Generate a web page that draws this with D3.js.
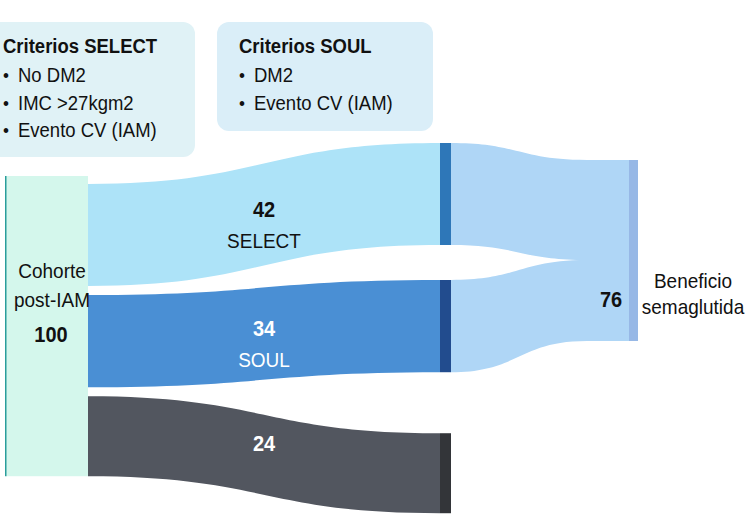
<!DOCTYPE html>
<html>
<head>
<meta charset="utf-8">
<script src="https://cdn.jsdelivr.net/npm/d3@7"></script>
<style>
  html, body { margin: 0; padding: 0; background: #ffffff; }
  svg { display: block; font-family: "Liberation Sans", Arial, Helvetica, sans-serif; }
</style>
</head>
<body>
<svg id="chart" width="745" height="527"></svg>
<script>
// ---------------- DATA ----------------
const cohortLabel = ["Cohorte", "post-IAM"];
const cohortTotal = 100;
const groups = ["SELECT", "SOUL", "Otros"];
const groupValues = [42, 34, 24];
const groupNames = ["SELECT", "SOUL", ""];
const benefitGroups = ["SELECT", "SOUL"];
const benefitValues = [42, 34];
const benefitLabel = ["Beneficio", "semaglutida"];
const selectTitle = "Criterios SELECT";
const selectCriteria = ["No DM2", "IMC >27kgm2", "Evento CV (IAM)"];
const soulTitle = "Criterios SOUL";
const soulCriteria = ["DM2", "Evento CV (IAM)"];

// ---------------- STYLE ----------------
const linkColors = ["#ade3f8", "#4a8fd4", "#52565f"];
const midNodeColors = ["#2e77b8", "#224c8e", "#333539"];
const labelColors = ["#111111", "#ffffff", "#ffffff"];
const benefitLinkColor = "#afd6f6";
const benefitNodeColor = "#97b8e6";
const SY = 1.1; // slight vertical stretch of the original lettering

const svg = d3.select("#chart");

function label(x, y, txt, opts) {
  opts = opts || {};
  return svg.append("text")
    .attr("transform", `translate(${x},${y}) scale(1,${SY})`)
    .attr("text-anchor", opts.anchor || "start")
    .attr("font-size", opts.size || 18.5)
    .attr("font-weight", opts.bold ? "bold" : "normal")
    .attr("fill", opts.fill || "#111")
    .text(txt);
}

// ---------------- LAYOUT ----------------
const colLeft = { x0: 6, x1: 88 };
const colMid = { x0: 440, x1: 451 };
const colEnd = { x0: 629, x1: 638, bendX: 587 };

// stage-1 thickness scale
const thick = d3.scaleLinear().domain(d3.extent(groupValues)).range([80, 102]);
// stage-2 thickness scale (benefit column)
const benefitTotal = d3.sum(benefitValues);
const thick2 = d3.scaleLinear().domain([0, benefitTotal]).range([0, 181]);

// left stacking
const leftStart = 184, leftGap = 9;
let yl = leftStart;
const leftBands = groupValues.map(v => { const b = { y0: yl, y1: yl + thick(v) }; yl = b.y1 + leftGap; return b; });
// mid stacking
const midStart = 143, midGaps = [35, 61];
let ym = midStart;
const midBands = groupValues.map((v, i) => { const b = { y0: ym, y1: ym + thick(v) }; ym = b.y1 + (midGaps[i] || 0); return b; });
// end stacking
const endHeight = thick2(benefitTotal);
const endTop = 160;
let ye = endTop;
const endBands = benefitValues.map(v => { const b = { y0: ye, y1: ye + thick2(v) }; ye = b.y1; return b; });

function band(xa, a, xb, b, xEnd) {
  const p = d3.path();
  const xm = (xa + xb) / 2;
  p.moveTo(xa, a.y0);
  p.bezierCurveTo(xm, a.y0, xm, b.y0, xb, b.y0);
  if (xEnd) { p.lineTo(xEnd, b.y0); p.lineTo(xEnd, b.y1); }
  p.lineTo(xb, b.y1);
  p.bezierCurveTo(xm, b.y1, xm, a.y1, xa, a.y1);
  p.closePath();
  return p.toString();
}

// ---------------- CRITERIA BOXES ----------------
const boxes = [
  { x: -20, y: 22, w: 215, h: 135, fill: "#e0f2f6", title: selectTitle, items: selectCriteria, tx: 3 },
  { x: 217, y: 22, w: 216, h: 109, fill: "#daeef8", title: soulTitle, items: soulCriteria, tx: 239 }
];
boxes.forEach(b => {
  svg.append("rect").attr("x", b.x).attr("y", b.y).attr("width", b.w).attr("height", b.h)
    .attr("rx", 12).attr("fill", b.fill);
  label(b.tx, b.y + 31, b.title, { bold: true, size: 18.5 });
  b.items.forEach((it, i) => {
    const yy = b.y + 60 + i * 27.5;
    label(b.tx, yy, "•", { size: 17 });
    label(b.tx + 15, yy, it, { size: 18.5 });
  });
});

// ---------------- STAGE 1 LINKS ----------------
groups.forEach((g, i) => {
  svg.append("path").attr("d", band(colLeft.x1, leftBands[i], colMid.x0, midBands[i]))
    .attr("fill", linkColors[i]);
});

// ---------------- STAGE 2 LINKS ----------------
benefitGroups.forEach((g, i) => {
  const gi = groups.indexOf(g);
  svg.append("path").attr("d", band(colMid.x1, midBands[gi], colEnd.bendX, endBands[i], colEnd.x0))
    .attr("fill", benefitLinkColor);
});

// ---------------- NODES ----------------
const leftNode = { y0: 176, y1: leftBands[leftBands.length - 1].y1 };
svg.append("rect").attr("x", colLeft.x0).attr("y", leftNode.y0)
  .attr("width", colLeft.x1 - colLeft.x0).attr("height", leftNode.y1 - leftNode.y0).attr("fill", "#d4f7ec");
svg.append("rect").attr("x", colLeft.x0 - 1).attr("y", leftNode.y0)
  .attr("width", 1.5).attr("height", leftNode.y1 - leftNode.y0).attr("fill", "#2a9d9b");

groups.forEach((g, i) => {
  svg.append("rect").attr("x", colMid.x0).attr("y", midBands[i].y0)
    .attr("width", colMid.x1 - colMid.x0).attr("height", midBands[i].y1 - midBands[i].y0)
    .attr("fill", midNodeColors[i]);
});

svg.append("rect").attr("x", colEnd.x0).attr("y", endTop)
  .attr("width", colEnd.x1 - colEnd.x0).attr("height", endHeight).attr("fill", benefitNodeColor);

// ---------------- LABELS ----------------
const leftMid = (leftNode.y0 + leftNode.y1) / 2;
label(52, leftMid - 48, cohortLabel[0], { anchor: "middle", size: 19 });
label(52, leftMid - 19, cohortLabel[1], { anchor: "middle", size: 19 });
label(51, leftMid + 16, cohortTotal, { anchor: "middle", size: 20, bold: true });

groups.forEach((g, i) => {
  const cx = (colLeft.x1 + colMid.x0) / 2;
  const cy = (leftBands[i].y0 + leftBands[i].y1 + midBands[i].y0 + midBands[i].y1) / 4;
  const hasName = groupNames[i] !== "";
  label(cx, hasName ? cy + 2 : cy - 4, groupValues[i], { anchor: "middle", size: 20, bold: true, fill: labelColors[i] });
  if (hasName) label(cx, cy + 33, groupNames[i], { anchor: "middle", size: 19, fill: labelColors[i] });
});

const lowBandMid = (endBands[1].y0 + endBands[1].y1) / 2;
label(611, lowBandMid + 6, benefitTotal, { anchor: "middle", size: 20, bold: true });
label(693, lowBandMid - 13, benefitLabel[0], { anchor: "middle", size: 19 });
label(693, lowBandMid + 13, benefitLabel[1], { anchor: "middle", size: 19 });
</script>
</body>
</html>
